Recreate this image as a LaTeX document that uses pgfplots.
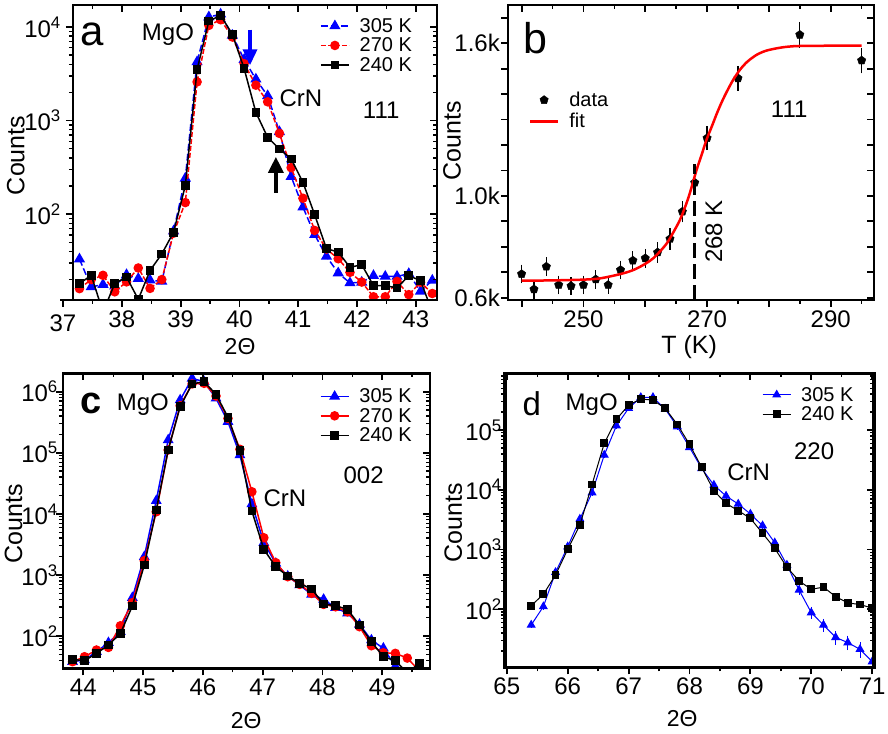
\documentclass[border=0pt]{standalone}
\usepackage{fontspec}
\setmainfont{Liberation Sans}
\usepackage{pgfplots}
\usepackage{pgfplotstable}
\pgfplotsset{compat=1.18}
\usetikzlibrary{arrows.meta}

\newcommand\tickfont{\fontsize{24bp}{26bp}\selectfont}
\newcommand\labfont{\fontsize{25bp}{27bp}\selectfont}
\newcommand\xlabfont{\fontsize{23bp}{25bp}\selectfont}
\newcommand\txtfont{\fontsize{24bp}{26bp}\selectfont}
\newcommand\legfont{\fontsize{20bp}{22bp}\selectfont}
\newcommand\sups[1]{\textsuperscript{#1}}

\definecolor{oblue}{RGB}{0,0,255}
\definecolor{ored}{RGB}{255,0,0}

% (111) reflection, three temperatures
\pgfplotstableread{
x     blue   red    black
37.28 33.1   16.0   18.1
37.48 16.7   20.0   22.2
37.68 17.7   22.2   9
37.88 17.0   14.8   18.1
38.08 22.5   18.9   21.3
38.28 20.5   26.6   12.3
38.48 19.7   16.1   25.0
38.68 19.1   20.0   37.6
38.88 66     62.7   64
39.08 242    133    202
39.28 4240   2590   3510
39.48 12790  10400  11580
39.68 13700  11970  13300
39.88 8150   7820   8360
40.08 4490   4060   3600
40.28 2770   2390   1222
40.48 1840   1588   662
40.68 760    730    497
40.88 252    314    389
41.08 119    148    219
41.28 60.3   67     98.5
41.48 35.4   42.4   42.8
41.68 23.5   33.4   39.4
41.88 18.4   23.9   27.0
42.08 18.7   18.8   28.9
42.28 22.0   13.1   17.2
42.48 21.6   13.1   17.2
42.68 21.6   19.1   16.3
42.88 23.1   13.8   22.0
43.08 15.0   18.7   19.5
43.28 19.6   14.2   9
}\tabA

% integrated intensity versus temperature
\pgfplotstableread{
T   v     e
240 0.693 0.025
242 0.633 0.025
244 0.722 0.025
246 0.650 0.025
248 0.646 0.022
250 0.650 0.025
252 0.672 0.025
254 0.650 0.022
256 0.709 0.025
258 0.746 0.025
260 0.755 0.025
262 0.778 0.028
264 0.831 0.030
266 0.938 0.030
268 1.052 0.030
270 1.227 0.035
275 1.462 0.037
285 1.633 0.039
295 1.532 0.039
}\tabB

\pgfplotstableread{
T     v
240   0.667
245   0.668
250   0.671
252.7 0.676
256   0.693
258.1 0.709
260   0.733
261.3 0.755
262.5 0.785
263.5 0.814
264.5 0.855
265.6 0.905
266.5 0.960
267.2 1.010
268.3 1.102
269.1 1.160
269.9 1.220
270.8 1.275
271.6 1.325
272.4 1.370
273.2 1.410
274.2 1.455
275.3 1.495
276.5 1.527
278.0 1.554
279.5 1.570
281.3 1.580
283   1.586
285   1.589
290   1.590
295   1.590
}\fitB

% (002) reflection
\pgfplotstableread{
x     blue    red     black
43.82 38      38      41.4
44.02 40.4    45.8    39.4
44.22 55.2    58.9    51.9
44.42 77.6    65      71.1
44.62 117     147     110
44.82 424     351     309
45.02 1987    1710    1452
45.22 16400   10800   11530
45.42 162000  111000  111000
45.62 731000  590000  568000
45.82 1650000 1340000 1340000
46.02 1460000 1370000 1460000
46.22 778000  849000  904000
46.42 323000  365000  380000
46.62 91800   114000  108000
46.82 14500   23000   11100
47.02 3370    4060    2620
47.22 1545    1585    1360
47.42 950     935     957
47.62 682     700     726
47.82 480     499     587
48.02 397     329     334
48.22 290     301     313
48.42 235     249     273
48.62 155     142     151
48.82 85.7    69.3    80.5
49.02 63      53.2    45.8
49.22 32      52      39.4
49.42 27      43.5    25
49.62 27      27      35.6
}\tabC

% (220) reflection
\pgfplotstableread{
x    blue   eb    black
65.4 54.6   0     115
65.6 111    0     178
65.8 416    0     375
66.0 1117   0     1007
66.2 3240   0     2570
66.4 8930   0     12300
66.6 38200  0     59800
66.8 118000 0     151000
67.0 231000 0     262000
67.2 352000 0     330000
67.4 352000 0     317000
67.6 225000 0     231000
67.8 114000 0     124000
68.0 51300  0     57500
68.2 22800  0     23700
68.4 12000  0     9650
68.6 7870   0     5930
68.8 5780   0     4470
69.0 3940   0     3330
69.2 2510   0     1870
69.4 1300   0     1047
69.6 551    0     504
69.8 210    15    298
70.0 87.9   10    216
70.2 54.6   7     235
70.4 33.9   5     163
70.6 27.7   4.5   128
70.8 21.4   4     120
71.0 13.3   3     105
}\tabD

\pgfplotsset{
  every axis/.append style={
    scale only axis, anchor=south west,
    axis line style={line width=2.7bp},
    tick style={line width=1.8bp, black},
    minor tick style={line width=1.4bp},
    major tick length=7bp, minor tick length=4bp,
    tick label style={font=\tickfont},
    /pgf/number format/assume math mode=true,
    clip mode=individual, clip marker paths=true,
  },
  outer ticks/.style={tick align=outside, xtick pos=left, ytick pos=left},
  inner ticks/.style={tick align=inside, xtick pos=right, ytick pos=right,
    xticklabels={}, yticklabels={}},
  legend image code/.code={%
    \draw[mark repeat=2,mark phase=2,#1] plot coordinates {(0bp,0bp)(14bp,0bp)(28bp,0bp)};
    \path (38bp,0bp);},
  my legend/.style={legend cell align=left,
    legend style={draw=none, fill=none, inner sep=0pt, outer sep=0pt,
      font=\legfont, row sep=4bp, nodes={inner sep=0pt}}},
  panel a/.style={at={(73bp,434bp)}, width=364bp, height=295bp,
    xmin=37.17, xmax=43.36, ymin=12.1, ymax=17200,
    xtick={38,39,40,41,42,43}, minor xtick={37.5,38.5,39.5,40.5,41.5,42.5},
    ytick={100,1000,10000}, yticklabels={10\sups{2},10\sups{3},10\sups{4}},
    minor ytick={20,30,40,50,60,70,80,90,200,300,400,500,600,700,800,900,
      2000,3000,4000,5000,6000,7000,8000,9000},
    yticklabel style={inner xsep=5bp}},
  panel b/.style={at={(508bp,434bp)}, width=366bp, height=295bp,
    xmin=237.8, xmax=297.0, ymin=0.591, ymax=1.75,
    xtick={240,250,260,270,280,290}, xticklabels={,250,,270,,290},
    minor xtick={245,255,265,275,285,295},
    ytick={0.6,0.7,0.8,0.9,1.0,1.1,1.2,1.3,1.4,1.5,1.6,1.7},
    yticklabels={0.6k,,,,1.0k,,,,,,1.6k,},
    yticklabel style={inner xsep=1bp}},
  panel c/.style={at={(63bp,65.7bp)}, width=367bp, height=295bp,
    xmin=43.66, xmax=49.8, ymin=29.6, ymax=2.0e6,
    xtick={44,45,46,47,48,49}, minor xtick={44.5,45.5,46.5,47.5,48.5,49.5},
    ytick={1e2,1e3,1e4,1e5,1e6},
    yticklabels={10\sups{2},10\sups{3},10\sups{4},10\sups{5},10\sups{6}},
    minor ytick={40,50,60,70,80,90,200,300,400,500,600,700,800,900,
      2000,3000,4000,5000,6000,7000,8000,9000,
      20000,30000,40000,50000,60000,70000,80000,90000,
      200000,300000,400000,500000,600000,700000,800000,900000},
    yticklabel style={inner xsep=0bp, xshift=2bp}},
  panel d/.style={at={(505bp,66.7bp)}, width=369bp, height=294bp,
    axis line style={line width=3.2bp},
    xmin=64.97, xmax=71.03, ymin=10.7, ymax=8.9e5,
    xtick={65,66,67,68,69,70,71}, minor xtick={65.5,66.5,67.5,68.5,69.5,70.5},
    ytick={1e2,1e3,1e4,1e5},
    yticklabels={10\sups{2},10\sups{3},10\sups{4},10\sups{5}},
    minor ytick={20,30,40,50,60,70,80,90,200,300,400,500,600,700,800,900,
      2000,3000,4000,5000,6000,7000,8000,9000,
      20000,30000,40000,50000,60000,70000,80000,90000,
      200000,300000,400000,500000,600000,700000,800000},
    yticklabel style={inner xsep=0bp, xshift=4bp}},
}

\begin{document}
\begin{tikzpicture}
\useasboundingbox (0bp,0bp) rectangle (888bp,734bp);

% ---------------- (a) 111 ----------------
\begin{semilogyaxis}[panel a, outer ticks,
  xlabel={2Θ}, ylabel={Counts},
  xlabel style={at={(axis description cs:0.459,-0.159)}, anchor=center, font=\xlabfont},
  ylabel style={at={(axis description cs:-0.157,0.49)}, anchor=center, font=\labfont},
  my legend, legend style={at={(axis description cs:0.679,0.955)}, anchor=north west}]
\addplot[oblue, line width=1.5bp, dash pattern=on 7bp off 3bp,
  mark=triangle*, mark size=5bp, mark options={solid}] table[x=x,y=blue]{\tabA};
\addlegendentry{305 K}
\addplot[ored, line width=1.5bp, dash pattern=on 5bp off 2bp,
  mark=*, mark size=4bp, mark options={solid}] table[x=x,y=red]{\tabA};
\addlegendentry{270 K}
\addplot[black, line width=1.5bp, mark=square*, mark size=3.6bp] table[x=x,y=black]{\tabA};
\addlegendentry{240 K}
% left end of the 2Theta axis with its first tick
\draw[line width=2.7bp] (axis cs:36.95,12.1) -- (axis cs:37.2,12.1);
\draw[line width=1.8bp] (axis cs:37,12.1) -- ++(0bp,-7bp);
\node[font=\tickfont, anchor=north, inner sep=0pt] at (axis cs:37,12.1) [yshift=-15bp] {37};
\draw[oblue, line width=3.5bp, -{Triangle[width=14bp,length=16bp]}]
  (axis cs:40.18,9380) -- (axis cs:40.18,3900);
\draw[black, line width=3.5bp, -{Triangle[width=15bp,length=16bp]}]
  (axis cs:40.62,169) -- (axis cs:40.62,410);
\node[anchor=base west, inner sep=0pt, font=\fontsize{42bp}{44bp}\selectfont] at (rel axis cs:0.019,0.864) {a};
\node[anchor=base west, inner sep=0pt, font=\txtfont] at (rel axis cs:0.189,0.879) {MgO};
\node[anchor=base west, inner sep=0pt, font=\txtfont] at (rel axis cs:0.567,0.655) {CrN};
\node[anchor=base west, inner sep=0pt, font=\txtfont] at (rel axis cs:0.796,0.614) {111};
\end{semilogyaxis}
\begin{semilogyaxis}[panel a, inner ticks]
\end{semilogyaxis}

% ---------------- (b) intensity vs T ----------------
\begin{axis}[panel b, outer ticks,
  xlabel={T (K)}, ylabel={Counts},
  xlabel style={at={(axis description cs:0.495,-0.159)}, anchor=center, font=\labfont},
  ylabel style={at={(axis description cs:-0.153,0.54)}, anchor=center, font=\labfont},
  my legend, legend style={at={(axis description cs:0.057,0.705)}, anchor=north west, row sep=5.4bp}]
\addlegendimage{only marks, mark=pentagon*, mark size=4.4bp, black}
\addlegendentry{data}
\addlegendimage{ored, line width=2.5bp}
\addlegendentry{fit}
\addplot[black, only marks, mark=pentagon*, mark size=4.4bp, forget plot,
  error bars/.cd, y dir=both, y explicit,
  error bar style={line width=1.2bp, black},
  error mark options={line width=1.2bp, mark size=3bp, black}]
  table[x=T, y=v, y error=e]{\tabB};
\addplot[ored, line width=2.5bp, smooth, forget plot] table[x=T, y=v]{\fitB};
\addplot[black, line width=3.5bp, dash pattern=on 15bp off 6bp, forget plot]
  coordinates {(268,0.591) (268,1.124)};
\node[anchor=base west, inner sep=0pt, font=\fontsize{43bp}{45bp}\selectfont] at (rel axis cs:0.042,0.836) {b};
\node[anchor=base west, inner sep=0pt, font=\txtfont] at (rel axis cs:0.718,0.619) {111};
\node[anchor=base west, inner sep=0pt, rotate=90, font=\txtfont] at (rel axis cs:0.585,0.125) {268 K};
\end{axis}
\begin{axis}[panel b, inner ticks]
\end{axis}

% ---------------- (c) 002 ----------------
\begin{semilogyaxis}[panel c, outer ticks,
  xlabel={2Θ}, ylabel={Counts},
  xlabel style={at={(axis description cs:0.499,-0.176)}, anchor=center, font=\xlabfont},
  ylabel style={at={(axis description cs:-0.135,0.489)}, anchor=center, font=\labfont},
  my legend, legend style={at={(axis description cs:0.700,0.948)}, anchor=north west}]
\addplot[oblue, line width=1.5bp, mark=triangle*, mark size=4.8bp] table[x=x,y=blue]{\tabC};
\addlegendentry{305 K}
\addplot[ored, line width=1.5bp, mark=*, mark size=4bp] table[x=x,y=red]{\tabC};
\addlegendentry{270 K}
\addplot[black, line width=1.5bp, mark=square*, mark size=3.6bp] table[x=x,y=black]{\tabC};
\addlegendentry{240 K}
\node[anchor=base west, inner sep=0pt, font=\fontsize{38bp}{40bp}\selectfont\bfseries] at (rel axis cs:0.048,0.865) {c};
\node[anchor=base west, inner sep=0pt, font=\txtfont] at (rel axis cs:0.146,0.875) {MgO};
\node[anchor=base west, inner sep=0pt, font=\txtfont] at (rel axis cs:0.546,0.547) {CrN};
\node[anchor=base west, inner sep=0pt, font=\txtfont] at (rel axis cs:0.764,0.628) {002};
\end{semilogyaxis}
\begin{semilogyaxis}[panel c, inner ticks]
\end{semilogyaxis}

% ---------------- (d) 220 ----------------
\begin{semilogyaxis}[panel d, outer ticks,
  xlabel={2Θ}, ylabel={Counts},
  xlabel style={at={(axis description cs:0.48,-0.174)}, anchor=center, font=\xlabfont},
  ylabel style={at={(axis description cs:-0.140,0.491)}, anchor=center, font=\labfont},
  my legend, legend style={at={(axis description cs:0.697,0.953)}, anchor=north west}]
\addplot[oblue, line width=1bp, mark=triangle*, mark size=4.3bp,
  error bars/.cd, y dir=both, y explicit,
  error bar style={line width=1bp, oblue},
  error mark options={line width=1bp, mark size=3bp, oblue}]
  table[x=x, y=blue, y error=eb]{\tabD};
\addlegendentry{305 K}
\addplot[black, line width=1bp, mark=square*, mark size=3.4bp] table[x=x,y=black]{\tabD};
\addlegendentry{240 K}
\node[anchor=base west, inner sep=0pt, font=\fontsize{33bp}{35bp}\selectfont] at (rel axis cs:0.047,0.857) {d};
\node[anchor=base west, inner sep=0pt, font=\txtfont] at (rel axis cs:0.164,0.874) {MgO};
\node[anchor=base west, inner sep=0pt, font=\txtfont] at (rel axis cs:0.602,0.636) {CrN};
\node[anchor=base west, inner sep=0pt, font=\txtfont] at (rel axis cs:0.783,0.707) {220};
\end{semilogyaxis}
\begin{semilogyaxis}[panel d, inner ticks]
\end{semilogyaxis}
\end{tikzpicture}
\end{document}
